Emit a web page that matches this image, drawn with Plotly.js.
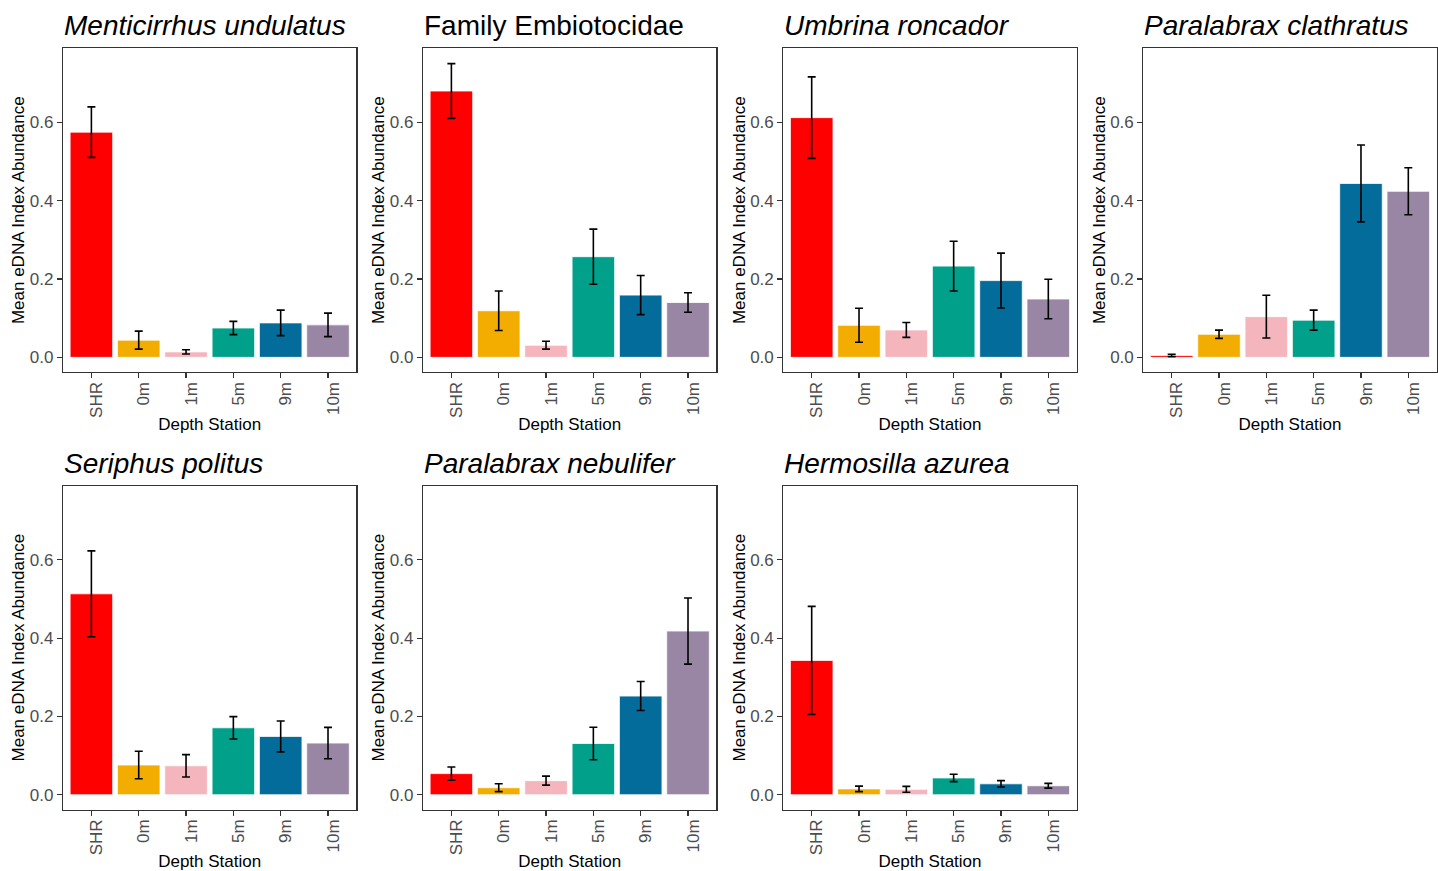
<!DOCTYPE html>
<html>
<head>
<meta charset="utf-8">
<script src="https://cdn.plot.ly/plotly-3.0.1.min.js"></script>
<style>html,body{margin:0;padding:0;background:#fff;}#chart{width:1438px;height:871px;}</style>
</head>
<body>
<div id="chart"></div>
<script>
const stations = ["SHR", "0m", "1m", "5m", "9m", "10m"];
const stationColors = ["#FF0000", "#F2AD00", "#F4B5BD", "#00A08A", "#046C9A", "#9986A5"];

const species = ["Menticirrhus undulatus", "Family Embiotocidae", "Umbrina roncador", "Paralabrax clathratus",
                 "Seriphus politus", "Paralabrax nebulifer", "Hermosilla azurea"];
const italicTitle = [true, false, true, true, true, true, true];

const meanMenticirrhus = [0.575, 0.044, 0.014, 0.075, 0.088, 0.083];
const seMenticirrhus   = [0.0645, 0.023, 0.0053, 0.017, 0.0325, 0.030];
const meanEmbiotocidae = [0.680, 0.119, 0.031, 0.257, 0.159, 0.140];
const seEmbiotocidae   = [0.070, 0.0505, 0.010, 0.0705, 0.050, 0.025];
const meanUmbrina      = [0.612, 0.082, 0.070, 0.233, 0.196, 0.149];
const seUmbrina        = [0.104, 0.0435, 0.019, 0.0635, 0.070, 0.0505];
const meanClathratus   = [0.005, 0.059, 0.104, 0.095, 0.444, 0.424];
const seClathratus     = [0.003, 0.0105, 0.0545, 0.0255, 0.098, 0.060];
const meanSeriphus     = [0.513, 0.076, 0.074, 0.171, 0.149, 0.132];
const seSeriphus       = [0.1095, 0.035, 0.0285, 0.0285, 0.0395, 0.040];
const meanNebulifer    = [0.054, 0.018, 0.036, 0.131, 0.252, 0.418];
const seNebulifer      = [0.017, 0.010, 0.0115, 0.0415, 0.037, 0.0845];
const meanHermosilla   = [0.343, 0.015, 0.014, 0.043, 0.028, 0.023];
const seHermosilla     = [0.138, 0.007, 0.0075, 0.0095, 0.008, 0.006];

const means = [meanMenticirrhus, meanEmbiotocidae, meanUmbrina, meanClathratus, meanSeriphus, meanNebulifer, meanHermosilla];
const ses = [seMenticirrhus, seEmbiotocidae, seUmbrina, seClathratus, seSeriphus, seNebulifer, seHermosilla];

const yTickVals = [0, 0.2, 0.4, 0.6];
const yTickText = ["0.0", "0.2", "0.4", "0.6"];

// layout geometry (pixels)
const W = 1438, H = 871;
const colLeft = [63, 423, 783.3, 1143.3];
const panelW = 293.4;
const rowTop = [48.3, 485.7];
const panelH = 323.8;

const FONT = "Liberation Sans, Arial, Helvetica, sans-serif";
const traces = [];
const layout = {
  width: W, height: H,
  margin: {l: 0, r: 0, t: 0, b: 0},
  paper_bgcolor: "#ffffff",
  plot_bgcolor: "#ffffff",
  showlegend: false,
  font: {family: FONT, size: 17, color: "#000"},
  annotations: []
};

species.forEach((name, i) => {
  const col = i % 4, row = Math.floor(i / 4);
  const n = i + 1;
  const xa = n === 1 ? "x" : "x" + n;
  const ya = n === 1 ? "y" : "y" + n;
  const xKey = n === 1 ? "xaxis" : "xaxis" + n;
  const yKey = n === 1 ? "yaxis" : "yaxis" + n;
  const x0 = colLeft[col] / W, x1 = (colLeft[col] + panelW) / W;
  const yTopPx = rowTop[row], yBotPx = rowTop[row] + panelH;
  const y0 = 1 - yBotPx / H, y1 = 1 - yTopPx / H;

  traces.push({
    type: "bar",
    x: stations,
    y: means[i],
    xaxis: xa, yaxis: ya,
    width: 0.9,
    marker: {color: stationColors, line: {color: "#ffffff", width: 0.8}},
    error_y: {type: "data", array: ses[i], visible: true, color: "#000000", thickness: 1.6, width: 4},
    hoverinfo: "x+y"
  });

  layout[xKey] = {
    domain: [x0, x1],
    anchor: ya,
    type: "category",
    categoryorder: "array",
    categoryarray: stations,
    range: [-0.6, 5.6],
    showgrid: false, zeroline: false,
    showline: true, mirror: true, linecolor: "#333333", linewidth: 1.1,
    ticks: "outside", ticklen: 5, tickwidth: 1.1, tickcolor: "#333333",
    tickangle: -90,
    ticklabelshift: 5,
    ticklabelstandoff: -3,
    tickfont: {family: FONT, size: 17, color: "#4D4D4D"},
    title: {text: "Depth Station", font: {family: FONT, size: 17, color: "#000"}, standoff: 1},
    fixedrange: true
  };
  layout[yKey] = {
    domain: [y0, y1],
    anchor: xa,
    range: [-0.0376, 0.789],
    tickvals: yTickVals, ticktext: yTickText,
    showgrid: false, zeroline: false,
    showline: true, mirror: true, linecolor: "#333333", linewidth: 1.1,
    ticks: "outside", ticklen: 5, tickwidth: 1.1, tickcolor: "#333333",
    tickfont: {family: FONT, size: 17, color: "#4D4D4D"},
    title: {text: "Mean eDNA Index Abundance", font: {family: FONT, size: 17, color: "#000"}, standoff: 0},
    fixedrange: true
  };

  layout.annotations.push({
    xref: "paper", yref: "paper",
    x: (colLeft[col] - 1) / W, y: 1 - (yTopPx - 5) / H,
    xanchor: "left", yanchor: "bottom",
    showarrow: false,
    text: italicTitle[i] ? "<i>" + name + "</i>" : name,
    font: {family: FONT, size: 28, color: "#000"}
  });
});

Plotly.newPlot("chart", traces, layout, {displayModeBar: false, staticPlot: true});
</script>
</body>
</html>
